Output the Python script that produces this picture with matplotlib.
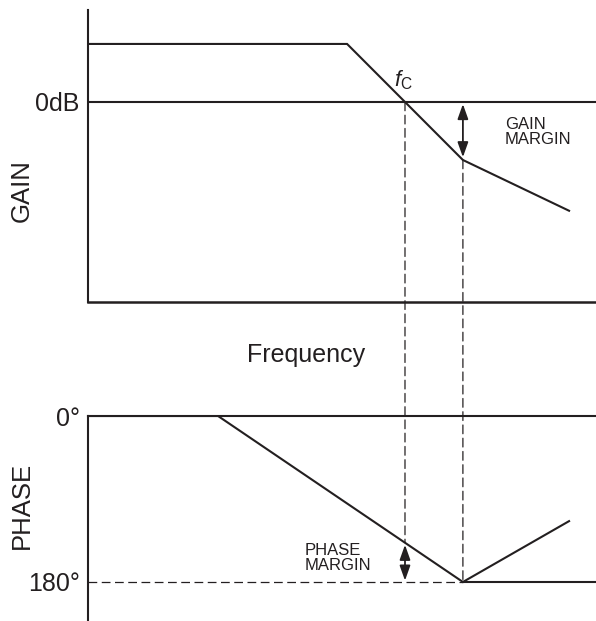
import numpy as np
import matplotlib
matplotlib.use("Agg")
import matplotlib.pyplot as plt
from matplotlib.patches import ConnectionPatch

plt.rcParams['font.family'] = ['Liberation Sans', 'DejaVu Sans']
plt.rcParams['mathtext.fontset'] = 'custom'
plt.rcParams['mathtext.rm'] = 'Liberation Sans'
plt.rcParams['mathtext.it'] = 'Liberation Sans:italic'

# ---- data (schematic Bode plot, frequency in arbitrary log units) ----
gain_freq = [0.0, 5.10, 7.38, 9.47]
gain_db = [40, 40, -40, -75]
phase_freq = [0.0, 2.56, 7.38, 9.47]
phase_deg = [0, 0, 180, 114]
gain_ticks = [0]
gain_ticklabels = ['0dB']
phase_ticks = [0, 180]
phase_ticklabels = ['0°', '180°']

C = '#231f20'
LW = 1.5
DASH = (0, (7, 3.6))
ARROW = '<|-|>,head_length=0.9,head_width=0.32'

# derived quantities
fc = float(np.interp(0, gain_db[1:3][::-1], gain_freq[1:3][::-1]))  # gain crossover
f180 = phase_freq[2]                                                   # phase crossover
g_at_f180 = float(np.interp(f180, gain_freq, gain_db))
ph_at_fc = float(np.interp(fc, phase_freq, phase_deg))

W, H = 596, 621
fig = plt.figure(figsize=(W / 100, H / 100), dpi=100)

def ax_rect(l, t, r, b):
    return [l / W, 1 - b / H, (r - l) / W, (b - t) / H]

axg = fig.add_axes(ax_rect(88, 10, 596, 302))
axp = fig.add_axes(ax_rect(88, 416, 596, 621))

for ax in (axg, axp):
    ax.set_xlim(0, 10)
    for s in ('top', 'right'):
        ax.spines[s].set_visible(False)
    ax.spines['left'].set_linewidth(LW)
    ax.spines['left'].set_color(C)
    ax.set_xticks([])
    ax.tick_params(axis='y', length=0, pad=6, labelsize=18, colors=C)

# ---- gain panel ----
axg.set_ylim(-137.9, 63.4)
axg.spines['bottom'].set_linewidth(LW + 0.3)
axg.spines['bottom'].set_color(C)
axg.set_yticks(gain_ticks)
axg.set_yticklabels(gain_ticklabels)
axg.axhline(0, color=C, lw=LW)
axg.plot(gain_freq, gain_db, color=C, lw=LW, solid_joinstyle='miter')
axg.annotate('', xy=(f180, g_at_f180), xytext=(f180, 0),
             arrowprops=dict(arrowstyle=ARROW, color=C, lw=1.3,
                             mutation_scale=10, shrinkA=1.5, shrinkB=2))
axg.text(8.21, -20.7, 'GAIN\nMARGIN', fontsize=12, ha='left', va='center',
         color=C, linespacing=0.95)
axg.text(fc - 0.03, 7, r'$f_\mathrm{C}$', fontsize=16, ha='center', va='bottom', color=C)

# ---- phase panel ----
axp.set_ylim(222.3, 0)
axp.spines['bottom'].set_visible(False)
axp.set_yticks(phase_ticks)
axp.set_yticklabels(phase_ticklabels)
axp.axhline(0, color=C, lw=LW, clip_on=False)
axp.plot([0, f180], [180, 180], color=C, lw=0.9, ls=DASH)
axp.plot([f180, 10], [180, 180], color=C, lw=LW)
axp.plot(phase_freq, phase_deg, color=C, lw=LW, solid_joinstyle='miter')
axp.annotate('', xy=(fc, 180), xytext=(fc, ph_at_fc),
             arrowprops=dict(arrowstyle=ARROW, color=C, lw=1.3,
                             mutation_scale=10, shrinkA=1.5, shrinkB=1))
axp.text(4.27, 154, 'PHASE\nMARGIN', fontsize=12, ha='left', va='center',
         color=C, linespacing=0.95)

# dashed verticals linking the panels
for fx, ya, yb in ((fc, 0, ph_at_fc), (f180, g_at_f180, 180)):
    con = ConnectionPatch(xyA=(fx, ya), coordsA=axg.transData,
                          xyB=(fx, yb), coordsB=axp.transData,
                          color=C, lw=0.9, ls=DASH)
    fig.add_artist(con)

# labels
fig.text(22 / W, 1 - 191 / H, 'GAIN', rotation=90, fontsize=18.5,
         ha='center', va='center', color=C)
fig.text(22 / W, 1 - 505 / H, 'PHASE', rotation=90, fontsize=18.5,
         ha='center', va='center', color=C)
fig.text(306 / W, 1 - 355 / H, 'Frequency', fontsize=18,
         ha='center', va='center', color=C)

fig.savefig('out.png', dpi=100)
